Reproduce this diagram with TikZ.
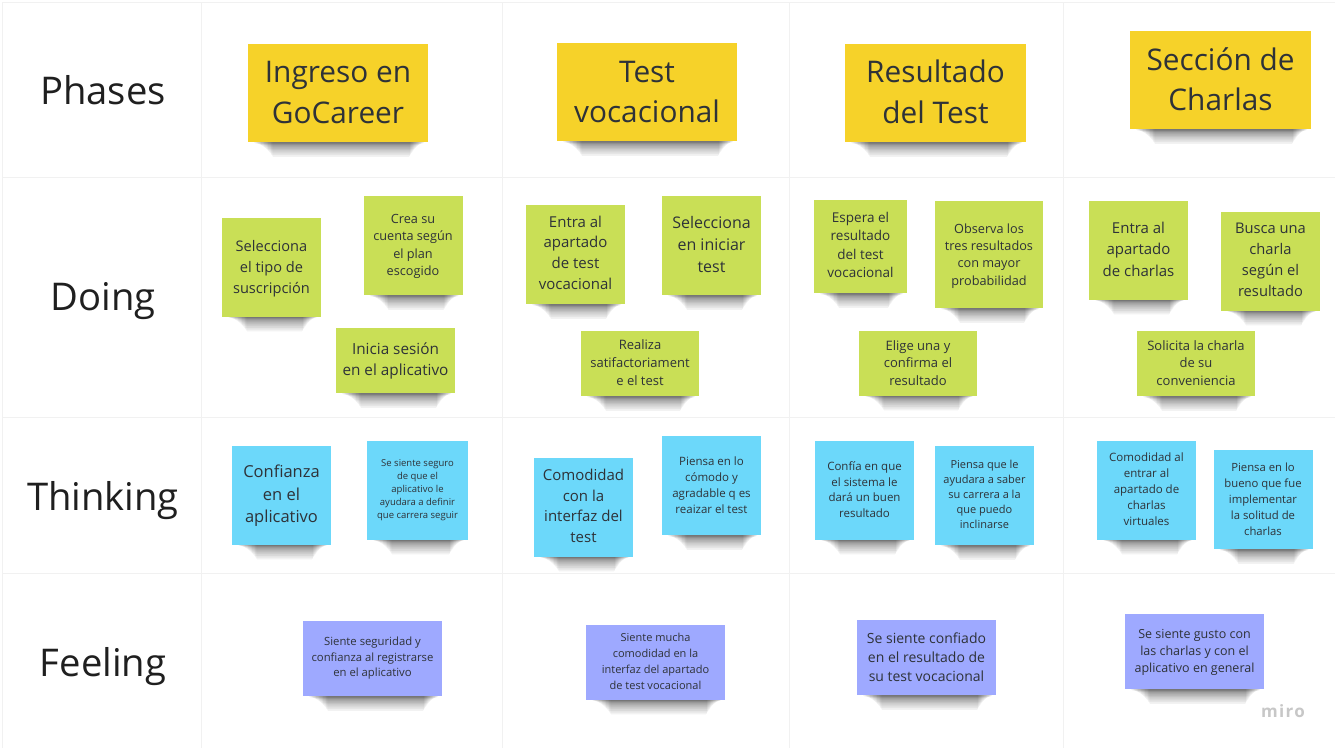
\documentclass[tikz,border=0pt]{standalone}
\usepackage{fontspec}
\setmainfont{Open Sans}
\usepackage{xfp}
\usetikzlibrary{calc,backgrounds}
\definecolor{yellownote}{HTML}{F6D229}
\definecolor{greennote}{HTML}{C9DF56}
\definecolor{bluenote}{HTML}{6CD8FA}
\definecolor{purplenote}{HTML}{9EA9FF}
\definecolor{gridline}{HTML}{F1F1F1}
\definecolor{inktext}{HTML}{2E3238}
\newcommand{\topgap}[1]{\rule{0pt}{\dimexpr.73em+#1pt\relax}}
\tikzset{
  sz/.style={font=\fontsize{#1}{\fpeval{#1*1.37}}\selectfont},
  szl/.style 2 args={font=\fontsize{#1}{#2}\selectfont},
  lift/.style={execute at end node={\rule[-#1pt]{0pt}{0pt}}},
  rowlabel/.style={text=black!88,sz=#1},
  sticky/.style={inner sep=0pt,align=center,text=inktext},
  bigyellow/.style={sticky,fill=yellownote,minimum width=180pt,minimum height=98pt,szl={29.8}{40.8}},
  squaregreen/.style={sticky,fill=greennote,minimum width=99pt,minimum height=99pt},
  widegreen/.style={sticky,fill=greennote,minimum width=118pt,minimum height=65pt},
  squareblue/.style={sticky,fill=bluenote,minimum width=99pt,minimum height=99pt},
  widepurple/.style={sticky,fill=purplenote,minimum width=139pt,minimum height=75pt},
  shade/.style={black,opacity=.05,rounded corners=1pt}
}
\begin{document}
\begin{tikzpicture}[x=1pt,y=-1pt]
  \useasboundingbox (0,0) rectangle (1335,748);
  % table lines
  \draw[gridline] (2,2) -- (1335,2);
  \draw[gridline] (2,177) -- (1335,177);
  \draw[gridline] (2,417) -- (1335,417);
  \draw[gridline] (2,573) -- (1335,573);
  \draw[gridline] (2,2) -- (2,748);
  \draw[gridline] (201,2) -- (201,748);
  \draw[gridline] (502,2) -- (502,748);
  \draw[gridline] (789,2) -- (789,748);
  \draw[gridline] (1063,2) -- (1063,748);
  % row names
  \node[rowlabel=38.2] (phases) at (103,90) {Phases};
  \node[rowlabel=38.2] (doing) at (103,301) {Doing};
  \node[rowlabel=38.2] (thinking) at (103,501) {Thinking};
  \node[rowlabel=38.2] (feeling) at (103,667) {Feeling};
  % phases
  \node[bigyellow,lift=2] (ingreso) at (338,93) {Ingreso en\\GoCareer};
  \node[bigyellow] (test) at (647,92) {Test\\vocacional};
  \node[bigyellow,minimum width=181pt,lift=2] (resultado) at (935.5,93) {Resultado\\del Test};
  \node[bigyellow,minimum width=181pt,lift=2] (seccion) at (1220.5,80) {Sección de\\Charlas};
  % doing
  \node[squaregreen,szl={14.6}{21}] (tipo) at (271.5,267) {\topgap{3}Selecciona\\el tipo de\\suscripción};
  \node[squaregreen,sz=12.7] (cuenta) at (413,245.5) {\topgap{2}Crea su\\cuenta según\\el plan\\escogido};
  \node[widegreen,minimum width=119pt,sz=15.3] (sesion) at (395.5,360.5) {\topgap{2}Inicia sesión\\en el aplicativo};
  \node[squaregreen,sz=15,lift=4] (apartado) at (575.5,254.5) {Entra al\\apartado\\de test\\vocacional};
  \node[squaregreen,sz=16,lift=3] (iniciar) at (711.5,245.5) {Selecciona\\en iniciar\\test};
  \node[widegreen,sz=13,lift=2] (realiza) at (640,363.5) {Realiza\\satifactoriament\\e el test};
  \node[squaregreen,minimum width=93pt,minimum height=93pt,sz=13.5,lift=3] (espera) at (860.5,246.5) {Espera el\\resultado\\del test\\vocacional};
  \node[squaregreen,minimum width=108pt,minimum height=107pt,szl={12.7}{17.4}] (observa) at (989,254.5) {\topgap{3}Observa los\\tres resultados\\con mayor\\probabilidad};
  \node[widegreen,sz=13] (elige) at (918,363) {Elige una y\\confirma el\\resultado};
  \node[squaregreen,szl={15}{21.5},lift=2] (charlas) at (1138.5,250) {Entra al\\apartado\\de charlas};
  \node[squaregreen,szl={14.7}{21},lift=2] (busca) at (1270.5,261) {Busca una\\charla\\según el\\resultado};
  \node[widegreen,sz=13,lift=1] (solicita) at (1196,363.5) {Solicita la charla\\de su\\conveniencia};
  % thinking
  \node[squareblue,sz=16.5] (confianza) at (281.5,495) {\topgap{2}Confianza\\en el\\aplicativo};
  \node[squareblue,minimum width=101pt,sz=9.5] (seguro) at (417.5,490) {Se siente seguro\\de que el\\aplicativo le\\ayudara a definir\\que carrera seguir};
  \node[squareblue,sz=15,lift=2] (comodidad) at (583.5,507) {Comodidad\\con la\\interfaz del\\test};
  \node[squareblue,sz=11.5,lift=1] (comodo) at (711.5,485.5) {Piensa en lo\\cómodo y\\agradable q es\\reaizar el test};
  \node[squareblue,sz=11.5,lift=1] (confia) at (864.5,490) {Confía en que\\el sistema le\\dará un buen\\resultado};
  \node[squareblue,sz=11,lift=3] (saber) at (984.5,495.5) {Piensa que le\\ayudara a saber\\su carrera a la\\que puedo\\inclinarse};
  \node[squareblue,szl={11.5}{16},lift=2] (virtuales) at (1146.5,490) {Comodidad al\\entrar al\\apartado de\\charlas\\virtuales};
  \node[squareblue,szl={11.3}{15.9}] (solitud) at (1263,499.5) {Piensa en lo\\bueno que fue\\implementar\\la solitud de\\charlas};
  % feeling
  \node[widepurple,sz=11.3] (seguridad) at (372.5,658.5) {Siente seguridad y\\confianza al registrarse\\en el aplicativo};
  \node[widepurple,szl={11}{16},lift=2] (mucha) at (655.5,662) {Siente mucha\\comodidad en la\\interfaz del apartado\\de test vocacional};
  \node[widepurple,sz=14] (confiado) at (926.5,657.5) {Se siente confiado\\en el resultado de\\su test vocacional};
  \node[widepurple,sz=12.5] (gusto) at (1194.5,651.5) {\topgap{2}Se siente gusto con\\las charlas y con el\\aplicativo en general};
  \node[text=black!22,sz=17] (miro) at (1283,711) {\addfontfeature{LetterSpace=8}\bfseries miro};
  % shadows under the notes
  \begin{scope}[on background layer]
    \fill[white] (0,0) rectangle (1335,748);
    \foreach \n in {ingreso,test,resultado,seccion,tipo,cuenta,sesion,apartado,iniciar,realiza,espera,observa,elige,charlas,busca,solicita,confianza,seguro,comodidad,comodo,confia,saber,virtuales,solitud,seguridad,mucha,confiado,gusto}
      \foreach \k in {1,...,14}
        \fill[shade] ($(\n.south west)+(5+1.4*\k,-3)$) rectangle ($(\n.south east)+(-3-1.1*\k,1+.07*\k*\k)$);
  \end{scope}
\end{tikzpicture}
\end{document}
